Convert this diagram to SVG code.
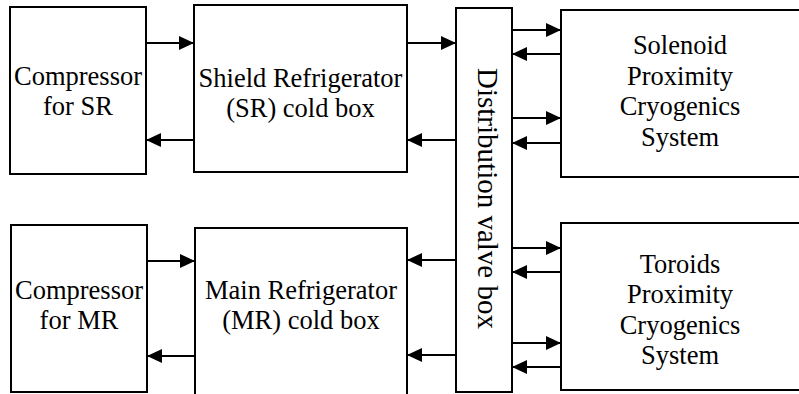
<svg xmlns="http://www.w3.org/2000/svg" width="799" height="394" viewBox="0 0 799 394">
<style>
.box{fill:#fff;stroke:#000;stroke-width:2}
.t{font-family:'Liberation Serif','DejaVu Serif',serif;font-size:26.5px;fill:#000;text-anchor:middle}
.c line{stroke:#000;stroke-width:2;marker-end:url(#ah)}
</style>
<defs>
<marker id="ah" markerUnits="userSpaceOnUse" markerWidth="16" markerHeight="14" refX="15" refY="7" orient="auto">
<path d="M0,0 L15,7 L0,14 Z" fill="#000"/>
</marker>
</defs>
<rect width="799" height="394" fill="#fff"/>
<g id="comp-sr"><rect class="box" x="10" y="7" width="136" height="167"/>
<text class="t" font-family="Liberation Serif" x="78" y="85">Compressor</text><text class="t" font-family="Liberation Serif" x="78" y="115">for SR</text></g>
<g id="sr-cold"><rect class="box" x="194" y="5" width="213" height="167"/>
<text class="t" font-family="Liberation Serif" x="300.5" y="87">Shield Refrigerator</text><text class="t" font-family="Liberation Serif" x="300.5" y="117">(SR) cold box</text></g>
<g id="comp-mr"><rect class="box" x="11" y="225" width="136" height="167"/>
<text class="t" font-family="Liberation Serif" x="79" y="299">Compressor</text><text class="t" font-family="Liberation Serif" x="79" y="329">for MR</text></g>
<g id="mr-cold"><rect class="box" x="195" y="228" width="212" height="167"/>
<text class="t" font-family="Liberation Serif" x="301" y="299">Main Refrigerator</text><text class="t" font-family="Liberation Serif" x="301" y="329">(MR) cold box</text></g>
<g id="dist"><rect class="box" x="456" y="8" width="56" height="384"/>
<text class="t" font-family="Liberation Serif" style="font-size:29px" transform="translate(478,198.5) rotate(90)">Distribution valve box</text></g>
<g id="solenoid"><rect class="box" x="561" y="10" width="250" height="167"/>
<text class="t" font-family="Liberation Serif" x="680" y="54">Solenoid</text><text class="t" font-family="Liberation Serif" x="680" y="84.5">Proximity</text><text class="t" font-family="Liberation Serif" x="680" y="115">Cryogenics</text><text class="t" font-family="Liberation Serif" x="680" y="145.5">System</text></g>
<g id="toroids"><rect class="box" x="561" y="223" width="250" height="167"/>
<text class="t" font-family="Liberation Serif" x="680" y="272.5">Toroids</text><text class="t" font-family="Liberation Serif" x="680" y="303">Proximity</text><text class="t" font-family="Liberation Serif" x="680" y="333.5">Cryogenics</text><text class="t" font-family="Liberation Serif" x="680" y="364">System</text></g>
<g class="c" id="connectors">
<line x1="146" y1="43" x2="194" y2="43"/>
<line x1="194" y1="140" x2="146" y2="140"/>
<line x1="407" y1="43" x2="456" y2="43"/>
<line x1="456" y1="140" x2="407" y2="140"/>
<line x1="147" y1="261" x2="195" y2="261"/>
<line x1="195" y1="356" x2="147" y2="356"/>
<line x1="456" y1="260" x2="407" y2="260"/>
<line x1="456" y1="355" x2="407" y2="355"/>
<line x1="512" y1="30" x2="561" y2="30"/>
<line x1="561" y1="54" x2="512" y2="54"/>
<line x1="512" y1="118" x2="561" y2="118"/>
<line x1="561" y1="143" x2="512" y2="143"/>
<line x1="512" y1="248" x2="561" y2="248"/>
<line x1="561" y1="272" x2="512" y2="272"/>
<line x1="512" y1="343" x2="561" y2="343"/>
<line x1="561" y1="367" x2="512" y2="367"/>
</g>
</svg>
